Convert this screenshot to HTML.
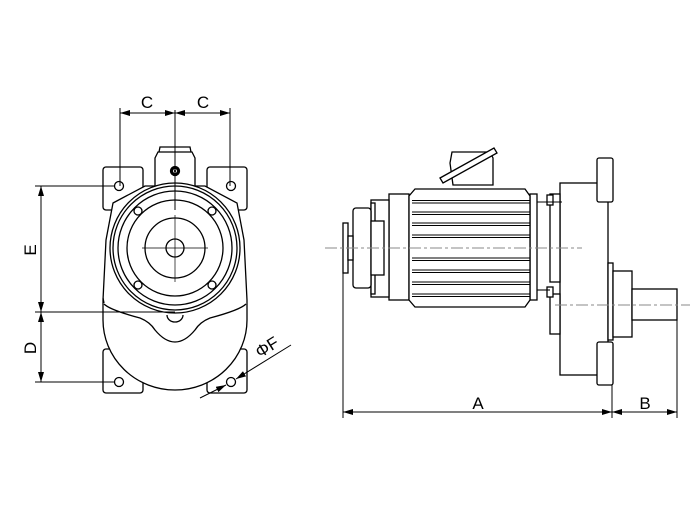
<!DOCTYPE html>
<html><head><style>html,body{margin:0;padding:0;background:#fff}svg{display:block}</style></head>
<body>
<svg width="690" height="530" viewBox="0 0 690 530" xmlns="http://www.w3.org/2000/svg" font-family="Liberation Sans, sans-serif">
<defs>
<marker id="ar" viewBox="0 0 10 6" refX="10" refY="3" markerWidth="10" markerHeight="6" orient="auto-start-reverse" markerUnits="userSpaceOnUse"><path d="M0,0 L10,3 L0,6 z" fill="#000"/></marker>
</defs>
<g fill="none" stroke="#000" stroke-width="1.3">
<!-- LEFT VIEW -->
<!-- feet -->
<rect x="103" y="167" width="40" height="43" rx="3" fill="#fff"/>
<rect x="207" y="167" width="40" height="43" rx="3" fill="#fff"/>
<rect x="103" y="349" width="40" height="44" rx="3" fill="#fff"/>
<rect x="207" y="349" width="40" height="44" rx="3" fill="#fff"/>
<!-- body -->
<path d="M113,203 L145,186 L205,186 L237,203 L244,240 L247,300 L247,320 A72,70 0 0 1 103,320 L103,300 L106,240 Z" fill="#fff"/>
<path d="M104,303 L103,298" />
<path d="M104,304 Q110,310 140,318 Q150,322 155,330 Q165,342 175,342 Q185,342 195,330 Q200,322 210,318 Q240,310 246,304"/>
<path d="M167,315 A8,7 0 0 0 183,315"/>
<!-- terminal box -->
<path d="M155,188 L155,158 L158,152 L192,152 L195,158 L195,188" fill="#fff"/>
<path d="M159,152 L160,147 L190,147 L191,152"/>
<circle cx="175" cy="171" r="4.5" fill="#000"/>
<circle cx="175" cy="171" r="1.5" stroke="#fff" stroke-width="0.8"/>
<!-- circles -->
<circle cx="175" cy="248" r="65" fill="#fff"/>
<circle cx="175" cy="248" r="62"/>
<circle cx="175" cy="248" r="57"/>
<circle cx="175" cy="248" r="48"/>
<circle cx="175" cy="248" r="30"/>
<circle cx="175" cy="248" r="9"/>
<circle cx="138" cy="211" r="4"/><circle cx="212" cy="211" r="4"/>
<circle cx="138" cy="285" r="4"/><circle cx="212" cy="285" r="4"/>
<circle cx="119" cy="186" r="4.5"/><circle cx="231" cy="186" r="4.5"/>
<circle cx="119" cy="382" r="4.5"/><circle cx="231" cy="382" r="4.5"/>
</g>
<g stroke="#000" stroke-width="0.7" fill="none">
<line x1="142" y1="248" x2="208" y2="248"/>
<line x1="175" y1="215" x2="175" y2="282"/>
</g>
<g stroke="#000" stroke-width="1" fill="none">
<line x1="175" y1="110" x2="175" y2="210"/>
<line x1="120" y1="108" x2="120" y2="186"/>
<line x1="230" y1="108" x2="230" y2="186"/>
<line x1="120" y1="113" x2="175" y2="113" marker-start="url(#ar)" marker-end="url(#ar)"/>
<line x1="175" y1="113" x2="230" y2="113" marker-start="url(#ar)" marker-end="url(#ar)"/>
<line x1="35" y1="186" x2="115" y2="186"/>
<line x1="35" y1="312" x2="175" y2="312"/>
<line x1="35" y1="382" x2="115" y2="382"/>
<line x1="41" y1="186" x2="41" y2="312" marker-start="url(#ar)" marker-end="url(#ar)"/>
<line x1="41" y1="312" x2="41" y2="382" marker-start="url(#ar)" marker-end="url(#ar)"/>
<line x1="200" y1="398" x2="226" y2="385" marker-end="url(#ar)"/>
<line x1="291" y1="345" x2="236" y2="379" marker-end="url(#ar)"/>
</g>
<g font-size="17" fill="#000">
<text x="147" y="108" text-anchor="middle">C</text>
<text x="203" y="108" text-anchor="middle">C</text>
<text transform="translate(36,250) rotate(-90)" text-anchor="middle">E</text>
<text transform="translate(36,348) rotate(-90)" text-anchor="middle">D</text>
<text transform="translate(270,352) rotate(-32)" text-anchor="middle">ΦF</text>
<text x="478" y="409" text-anchor="middle">A</text>
<text x="645" y="409" text-anchor="middle">B</text>
</g>

<!-- RIGHT VIEW -->
<g fill="#fff" stroke="#000" stroke-width="1.3">
<rect x="560" y="183" width="48" height="192"/>
<rect x="550" y="194" width="10" height="88"/>
<rect x="550" y="294" width="10" height="40"/>
<rect x="597" y="158" width="16" height="44" rx="2"/>
<rect x="597" y="342" width="16" height="43" rx="2"/>
<rect x="608" y="263" width="5" height="77"/>
<rect x="613" y="271" width="19" height="66"/>
<rect x="632" y="289" width="45" height="31"/>
<rect x="530" y="194" width="7" height="106"/>
<rect x="547" y="195" width="6" height="10"/>
<rect x="547" y="287" width="6" height="10"/>
<rect x="389" y="194" width="20" height="106"/>
<rect x="371" y="200" width="18" height="97"/>
<rect x="371" y="203" width="4" height="91"/>
<rect x="353" y="208" width="18" height="80" rx="3"/>
<rect x="371" y="221" width="13" height="54"/>
<rect x="343" y="223" width="5" height="50"/>
<rect x="348" y="236" width="5" height="24"/>
<path d="M453,185 L450,163 L452,152 L490,152 L493,158 L493,185 Z"/>
<path d="M440,178 L494,148 L497,153 L443,183 Z"/>
<path d="M415,189 L525,189 L530,196 L530,300 L525,307 L415,307 L409,300 L409,196 Z"/>
</g>
<g stroke="#000" stroke-width="1.1">
<line x1="412" y1="200.5" x2="530" y2="200.5"/><line x1="412" y1="203" x2="530" y2="203"/>
<line x1="412" y1="212" x2="530" y2="212"/><line x1="412" y1="214.5" x2="530" y2="214.5"/>
<line x1="412" y1="223" x2="530" y2="223"/><line x1="412" y1="225.5" x2="530" y2="225.5"/>
<line x1="412" y1="235" x2="530" y2="235"/><line x1="412" y1="237.5" x2="530" y2="237.5"/>
<line x1="412" y1="258" x2="530" y2="258"/><line x1="412" y1="260.5" x2="530" y2="260.5"/>
<line x1="412" y1="270" x2="530" y2="270"/><line x1="412" y1="272.5" x2="530" y2="272.5"/>
<line x1="412" y1="282" x2="530" y2="282"/><line x1="412" y1="284.5" x2="530" y2="284.5"/>
<line x1="412" y1="294" x2="530" y2="294"/><line x1="412" y1="296.5" x2="530" y2="296.5"/>
<line x1="537" y1="202" x2="562" y2="202"/>
<line x1="537" y1="290" x2="550" y2="290"/>
</g>
<g stroke="#888" stroke-width="0.9" stroke-dasharray="12,3,3,3" fill="none">
<line x1="325" y1="248" x2="582" y2="248"/>
<line x1="555" y1="305" x2="690" y2="305"/>
</g>
<g stroke="#000" stroke-width="1" fill="none">
<line x1="343" y1="273" x2="343" y2="418"/>
<line x1="612" y1="385" x2="612" y2="418"/>
<line x1="677" y1="320" x2="677" y2="418"/>
<line x1="343" y1="412" x2="612" y2="412" marker-start="url(#ar)" marker-end="url(#ar)"/>
<line x1="612" y1="412" x2="677" y2="412" marker-start="url(#ar)" marker-end="url(#ar)"/>
</g>
</svg>
</body></html>
